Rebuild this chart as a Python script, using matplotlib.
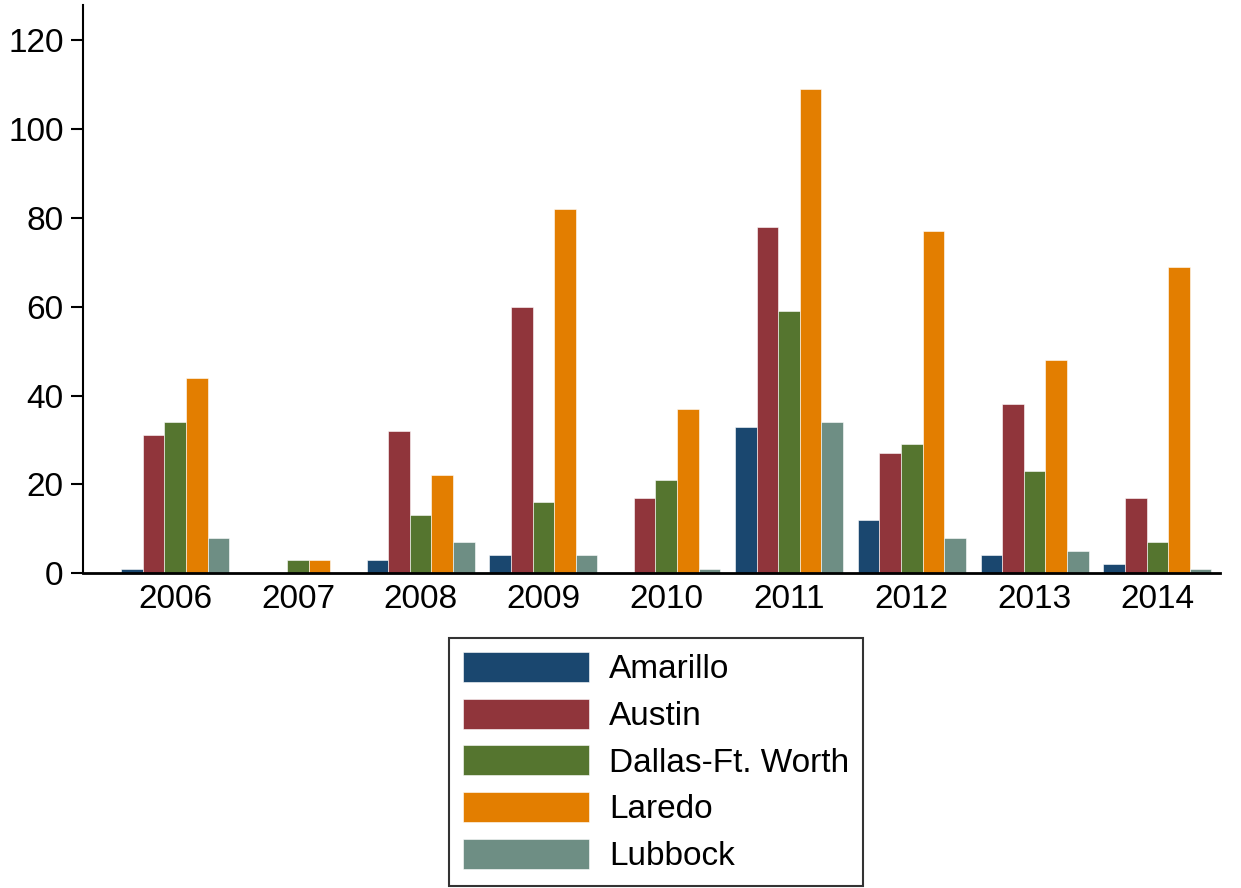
import numpy as np
import matplotlib
matplotlib.use("Agg")
import matplotlib.pyplot as plt

plt.rcParams["font.family"] = ["Liberation Sans", "DejaVu Sans"]

years = ["2006", "2007", "2008", "2009", "2010", "2011", "2012", "2013", "2014"]
cities = ["Amarillo", "Austin", "Dallas-Ft. Worth", "Laredo", "Lubbock"]

amarillo = [1, 0, 3, 4, 0, 33, 12, 4, 2]
austin = [31, 0, 32, 60, 17, 78, 27, 38, 17]
dallas = [34, 3, 13, 16, 21, 59, 29, 23, 7]
laredo = [44, 3, 22, 82, 37, 109, 77, 48, 69]
lubbock = [8, 0, 7, 4, 1, 34, 8, 5, 1]

series = [amarillo, austin, dallas, laredo, lubbock]
colors = ["#1a476f", "#90353b", "#55752f", "#e37e00", "#6e8e84"]

fig = plt.figure(figsize=(12.41, 8.88), dpi=100)
ax = fig.add_axes([83 / 1241, 1 - 573 / 888, (1220 - 83) / 1241, (573 - 5) / 888])

x = np.arange(len(years))
bw = 0.176
for i, (vals, name, c) in enumerate(zip(series, cities, colors)):
    ax.bar(x + (i - 2) * bw, vals, width=bw, color=c, label=name,
           edgecolor="white", linewidth=0.4)

ax.set_xlim(-0.75, 8.51)
ax.set_ylim(0, 128)
ax.set_yticks([0, 20, 40, 60, 80, 100, 120])
ax.set_xticks(x)
ax.set_xticklabels(years)

for s in ["top", "right"]:
    ax.spines[s].set_visible(False)
ax.spines["left"].set_linewidth(1.5)
ax.spines["bottom"].set_linewidth(2)

ax.tick_params(axis="y", labelsize=24, length=9, width=1.5, pad=5)
ax.tick_params(axis="x", labelsize=24, length=0, pad=8)

# legend box sits under the plot, slightly right of the axes centre
leg = fig.legend(loc="upper center", bbox_to_anchor=(656 / 1241, 1 - 638 / 888),
                 ncol=1, fontsize=24, frameon=True, fancybox=False,
                 handlelength=3.8, handleheight=1.0, handletextpad=0.6,
                 labelspacing=0.4, borderpad=0.42, borderaxespad=0)
leg.get_frame().set_edgecolor("black")
leg.get_frame().set_linewidth(1.5)

fig.savefig("out.png", dpi=100)
